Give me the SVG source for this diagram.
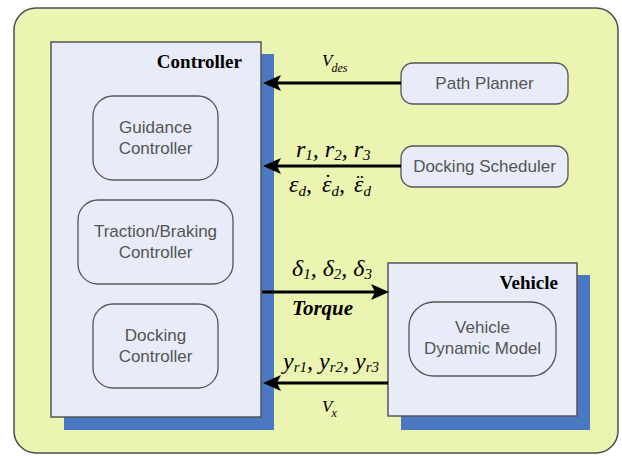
<svg xmlns="http://www.w3.org/2000/svg" width="622" height="456" viewBox="0 0 622 456">
<style>
.bg{fill:#ebf5b1;stroke:#4d4d4d;stroke-width:1.5}
.box{fill:#e7ecf8;stroke:#555;stroke-width:1.5}
.shadow{fill:#4a78c1}
.inner{fill:#e7ecf8;stroke:#555;stroke-width:1.3}
.lbl{font-family:"Liberation Sans",Arial,sans-serif;font-size:17px;fill:#555;text-anchor:middle}
.title{font-family:"Liberation Serif","Times New Roman",serif;font-weight:bold;font-size:19px;fill:#000;text-anchor:end}
.m{font-family:"Liberation Serif","Times New Roman",serif;font-style:italic;font-size:24px;fill:#000}
.s{font-size:15px}
.dot{font-family:"Liberation Serif","Times New Roman",serif;font-size:22px;fill:#000;text-anchor:middle}
.v{font-family:"Liberation Serif","Times New Roman",serif;font-style:italic;font-size:17px;fill:#000}
.vs{font-size:12px}
.tq{font-family:"Liberation Serif","Times New Roman",serif;font-style:italic;font-weight:bold;font-size:21px;fill:#000}
.conn{stroke:#000;stroke-width:3;fill:none;marker-end:url(#ah)}
</style>
<defs>
<marker id="ah" markerUnits="userSpaceOnUse" viewBox="0 0 18 18" markerWidth="18" markerHeight="18" refX="13" refY="9" orient="auto">
<path d="M0,1 L18,9 L0,17 L4,9 z" fill="#000"/>
</marker>
</defs>
<rect class="bg" x="14" y="8" width="604" height="445" rx="22"/>

<g id="controller">
<rect class="shadow" x="64" y="54" width="210" height="376"/>
<rect class="box" x="51" y="42" width="210" height="375"/>
<text class="title" x="242" y="68">Controller</text>
</g>
<g id="guidance">
<rect class="inner" x="93" y="96" width="125" height="84" rx="20"/>
<text class="lbl" x="155.5" y="133">Guidance</text>
<text class="lbl" x="155.5" y="154">Controller</text>
</g>
<g id="traction">
<rect class="inner" x="78" y="200" width="155" height="84" rx="20"/>
<text class="lbl" x="155.5" y="237">Traction/Braking</text>
<text class="lbl" x="155.5" y="258">Controller</text>
</g>
<g id="docking">
<rect class="inner" x="93" y="304" width="125" height="84" rx="20"/>
<text class="lbl" x="155.5" y="341">Docking</text>
<text class="lbl" x="155.5" y="362">Controller</text>
</g>
<g id="pathplanner">
<rect class="inner" x="401" y="63" width="167" height="41" rx="12"/>
<text class="lbl" x="484.5" y="89">Path Planner</text>
</g>
<g id="scheduler">
<rect class="inner" x="401" y="146" width="167" height="41" rx="12"/>
<text class="lbl" x="484.5" y="172">Docking Scheduler</text>
</g>
<g id="vehicle">
<rect class="shadow" x="401" y="275" width="189" height="155"/>
<rect class="box" x="388" y="263" width="189" height="153"/>
<text class="title" x="558" y="289">Vehicle</text>
</g>
<g id="dynamic">
<rect class="inner" x="409" y="302" width="147" height="74" rx="25"/>
<text class="lbl" x="482.5" y="333">Vehicle</text>
<text class="lbl" x="482.5" y="354">Dynamic Model</text>
</g>

<g id="connectors">
<line class="conn" x1="401" y1="83" x2="268" y2="83"/>
<line class="conn" x1="401" y1="166" x2="268" y2="166"/>
<line class="conn" x1="262" y1="292" x2="384" y2="292"/>
<line class="conn" x1="388" y1="383" x2="268" y2="383"/>
</g>

<g id="labels">
<text class="v" x="322" y="66">V<tspan class="vs" dx="-1" dy="6">des</tspan></text>
<text class="m" x="296" y="157">r<tspan class="s" dy="3">1</tspan><tspan dy="-3">, </tspan>r<tspan class="s" dy="3">2</tspan><tspan dy="-3">, </tspan>r<tspan class="s" dy="3">3</tspan></text>
<text class="m" y="192"><tspan x="289">ε</tspan><tspan class="s" dy="4">d</tspan><tspan dy="-4">,</tspan><tspan x="322">ε</tspan><tspan class="s" dy="4">d</tspan><tspan dy="-4">,</tspan><tspan x="354">ε</tspan><tspan class="s" dy="4">d</tspan></text>
<text class="dot" x="328" y="189">˙</text>
<text class="dot" x="360" y="189">¨</text>
<text class="m" x="292" y="276">δ<tspan class="s" dy="3">1</tspan><tspan dy="-3">, </tspan>δ<tspan class="s" dy="3">2</tspan><tspan dy="-3">, </tspan>δ<tspan class="s" dy="3">3</tspan></text>
<text class="tq" x="292" y="315">Torque</text>
<text class="m" x="283" y="369">y<tspan class="s" dy="3">r1</tspan><tspan dy="-3">, </tspan>y<tspan class="s" dy="3">r2</tspan><tspan dy="-3">, </tspan>y<tspan class="s" dy="3">r3</tspan></text>
<text class="v" x="322" y="412">V<tspan class="vs" dx="-1" dy="5">x</tspan></text>
</g>
</svg>
